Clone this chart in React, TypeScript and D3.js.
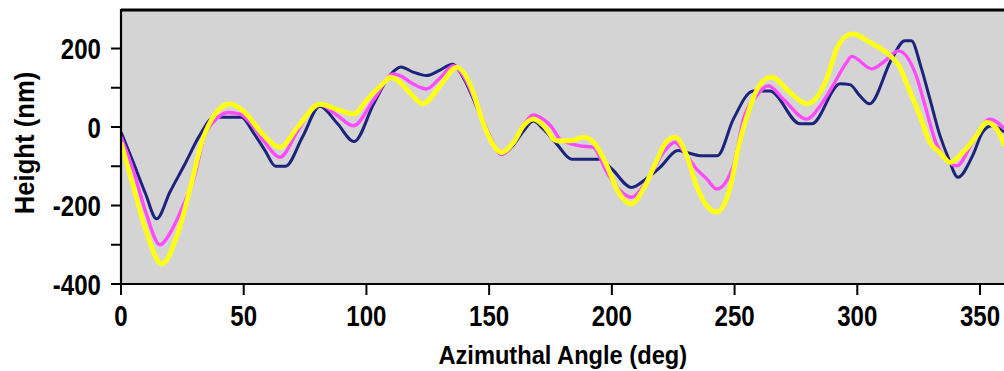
import React from 'react';
import * as d3 from 'd3';

const blueAngles = [0, 5, 10, 14.5, 20, 26, 32, 38, 49, 54, 58.7, 63, 67, 74, 81, 88, 95, 103, 110, 114, 119, 124.5, 130, 135, 140, 145, 150, 155, 160, 164, 168, 172, 177.5, 183.6, 195, 200, 208, 214, 219.6, 227, 230.5, 236, 243, 249.5, 257.6, 264.4, 276.7, 281.4, 293, 297, 301, 305, 314, 319.4, 322, 326, 329.6, 333.7, 337, 341, 347, 351, 354.7, 360];
const blueHeights = [-13, -90, -170, -234, -165, -95, -22, 25, 25, -15, -60, -100, -100, -25, 53, 10, -37, 60, 135, 153, 140, 131, 145, 160, 120, 50, -20, -70, -45, -10, 15, -5, -43, -82, -82, -107, -154, -132, -103, -60, -65, -73, -73, 20, 92, 92, 8, 8, 110, 108, 80, 59, 173, 220, 220, 152, 71, -22, -77, -128, -73, -14, 3, -13];

const magentaAngles = [0, 5, 10, 15.9, 20, 24.7, 30, 34, 38, 43.7, 48.5, 54, 58.7, 64.8, 72, 80.4, 88, 94.7, 103, 111, 113.7, 119, 124.5, 130, 135.4, 140, 145, 150, 155, 160, 164, 168, 172, 175.5, 178.9, 187, 192.4, 197.9, 203, 208, 214, 221, 225.7, 229, 234.5, 238.6, 242.7, 249.5, 253.6, 259, 263.7, 270, 279.4, 285, 290, 295.7, 297.7, 305.9, 310.6, 316.7, 324, 328, 332, 336, 340.5, 347, 354, 360];
const magentaHeights = [-25, -110, -215, -300, -270, -209, -124, -22, 15, 37, 33, 0, -40, -77, -10, 59, 30, 3, 70, 135, 131, 110, 97, 125, 156, 125, 55, -20, -70, -40, 5, 31, 20, 0, -31, -48, -52, -115, -160, -179, -141, -65, -39, -60, -107, -132, -158, -99, 20, 80, 105, 70, 20, 55, 105, 165, 180, 148, 165, 194, 131, 46, -39, -80, -99, -39, 20, -5];

const yellowAngles = [0, 5, 10, 16.6, 23.3, 28.8, 32.9, 37, 44.4, 50, 58, 64.8, 72, 81, 88, 94.7, 101, 108, 109.6, 113.7, 118, 123, 130, 136.8, 143, 147, 149.7, 155, 160, 164, 168, 172, 177.5, 183, 188.4, 192.5, 198, 202, 208, 212.8, 218, 222, 225.7, 230.5, 234.5, 238.6, 242.7, 248, 252, 256, 260, 265, 272.6, 279.4, 287.5, 291.6, 295.7, 298.4, 305, 313.3, 317, 321, 325.5, 329.6, 333.7, 337.8, 343, 348.6, 352.7, 356.8, 360];
const yellowHeights = [-40, -150, -260, -349, -268, -141, -39, 20, 59, 40, -20, -52, 0, 58, 45, 33, 75, 118, 127, 114, 85, 59, 105, 152, 97, 20, -22, -65, -39, 3, 20, 5, -35, -35, -26, -39, -99, -158, -196, -158, -90, -39, -26, -73, -150, -200, -217, -158, -39, 46, 105, 127, 88, 59, 122, 199, 233, 237, 216, 182, 156, 97, 29, -39, -65, -90, -65, -22, 12, -5, -48];

const xTicks = [0, 50, 100, 150, 200, 250, 300, 350];
const yMajorTicks = [-400, -200, 0, 200];
const yMinorTicks = [-300, -100, 100];

const FONT = "'Liberation Sans', Arial, Helvetica, sans-serif";

export default function App() {
  const W = 1004, H = 371;
  const left = 121, bottom = 284, top = 10;
  const x = d3.scaleLinear().domain([0, 360]).range([left, left + 360 * 2.4543]);
  const y = d3.scaleLinear().domain([-400, 200]).range([bottom, 48.5]);
  const right = x(360);

  const mk = (a: number[], v: number[]) =>
    d3.line<number>().x((_, i) => x(a[i])).y((d) => y(d)).curve(d3.curveMonotoneX)(v) || '';

  const series = [
    { a: blueAngles, v: blueHeights, c: '#1b237c', w: 3 },
    { a: magentaAngles, v: magentaHeights, c: '#ff4cff', w: 3.4 },
    { a: yellowAngles, v: yellowHeights, c: '#ffff14', w: 4.8 },
  ];

  return (
    <svg width={W} height={H} style={{ position: 'absolute', left: 0, top: 0, background: '#fff' }}>
      <defs>
        <clipPath id="plotclip">
          <rect x={left} y={top} width={right - left} height={bottom - top} />
        </clipPath>
      </defs>
      <rect x={left} y={top} width={right - left} height={bottom - top} fill="#d4d4d4" />
      <g clipPath="url(#plotclip)">
        {series.map((s, i) => (
          <path key={i} d={mk(s.a, s.v)} fill="none" stroke={s.c} strokeWidth={s.w} strokeLinejoin="round" />
        ))}
      </g>
      <line x1={left} x2={W} y1={top} y2={top} stroke="#000" strokeWidth={2.8} />
      <line x1={left} x2={W} y1={bottom} y2={bottom} stroke="#000" strokeWidth={2.2} />
      <line x1={left} x2={left} y1={top - 1} y2={bottom + 1} stroke="#000" strokeWidth={2.2} />
      {[...yMajorTicks, ...yMinorTicks].map((t) => (
        <line key={'yt' + t} x1={left - 10} x2={left} y1={y(t)} y2={y(t)} stroke="#000" strokeWidth={2} />
      ))}
      {yMajorTicks.map((t) => (
        <text key={'yl' + t} transform={`translate(${left - 20}, ${y(t) + 10.5}) scale(0.83, 1)`} textAnchor="end" fontFamily={FONT} fontWeight="bold" fontSize={29} fill="#000">
          {t}
        </text>
      ))}
      {xTicks.map((t) => (
        <g key={'xt' + t}>
          <line x1={x(t)} x2={x(t)} y1={bottom} y2={bottom + 11} stroke="#000" strokeWidth={2} />
          <text transform={`translate(${x(t)}, 326) scale(0.83, 1)`} textAnchor="middle" fontFamily={FONT} fontWeight="bold" fontSize={29} fill="#000">
            {t}
          </text>
        </g>
      ))}
      <text transform={`translate(${(left + right) / 2}, 364) scale(0.91, 1)`} textAnchor="middle" fontFamily={FONT} fontWeight="bold" fontSize={26} fill="#000">
        Azimuthal Angle (deg)
      </text>
      <text transform={`translate(34, 143) rotate(-90) scale(0.95, 1)`} textAnchor="middle" fontFamily={FONT} fontWeight="bold" fontSize={27} fill="#000">
        Height (nm)
      </text>
    </svg>
  );
}
